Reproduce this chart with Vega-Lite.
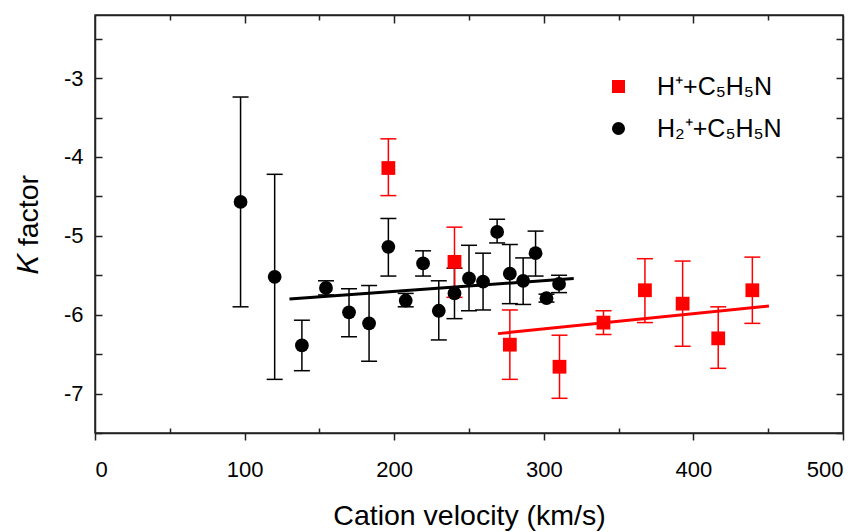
{
  "$schema": "https://vega.github.io/schema/vega-lite/v6.json",
  "width": 748,
  "height": 418,
  "autosize": {"type": "none"},
  "padding": {"left": 95, "top": 15, "right": 22, "bottom": 99},
  "config": {
    "font": "Liberation Sans",
    "view": {"stroke": "#222", "strokeWidth": 1.5},
    "axis": {
      "grid": false,
      "domainColor": "#222",
      "tickColor": "#222",
      "domainWidth": 1.5,
      "tickWidth": 1.5,
      "labelColor": "#000",
      "titleColor": "#000",
      "labelFont": "Liberation Sans",
      "titleFont": "Liberation Sans",
      "titleFontWeight": "normal",
      "labelFontSize": 22,
      "titleFontSize": 28.5
    }
  },
  "datasets": {
    "pts": [
      {"series": "H₂⁺+C₅H₅N", "v": 97.3, "k": -4.57, "lo": -5.90, "hi": -3.24},
      {"series": "H₂⁺+C₅H₅N", "v": 120.1, "k": -5.52, "lo": -6.82, "hi": -4.22},
      {"series": "H₂⁺+C₅H₅N", "v": 138.3, "k": -6.39, "lo": -6.71, "hi": -6.07},
      {"series": "H₂⁺+C₅H₅N", "v": 154.4, "k": -5.66, "lo": -5.75, "hi": -5.57},
      {"series": "H₂⁺+C₅H₅N", "v": 169.8, "k": -5.97, "lo": -6.28, "hi": -5.67},
      {"series": "H₂⁺+C₅H₅N", "v": 183.2, "k": -6.11, "lo": -6.59, "hi": -5.63},
      {"series": "H₂⁺+C₅H₅N", "v": 196.1, "k": -5.14, "lo": -5.51, "hi": -4.78},
      {"series": "H₂⁺+C₅H₅N", "v": 207.7, "k": -5.82, "lo": -5.90, "hi": -5.73},
      {"series": "H₂⁺+C₅H₅N", "v": 219.3, "k": -5.35, "lo": -5.51, "hi": -5.19},
      {"series": "H₂⁺+C₅H₅N", "v": 229.8, "k": -5.95, "lo": -6.32, "hi": -5.57},
      {"series": "H₂⁺+C₅H₅N", "v": 240.3, "k": -5.73, "lo": -6.05, "hi": -5.41},
      {"series": "H₂⁺+C₅H₅N", "v": 250.0, "k": -5.54, "lo": -5.95, "hi": -5.12},
      {"series": "H₂⁺+C₅H₅N", "v": 259.4, "k": -5.58, "lo": -5.94, "hi": -5.22},
      {"series": "H₂⁺+C₅H₅N", "v": 268.8, "k": -4.95, "lo": -5.09, "hi": -4.79},
      {"series": "H₂⁺+C₅H₅N", "v": 277.3, "k": -5.48, "lo": -5.86, "hi": -5.11},
      {"series": "H₂⁺+C₅H₅N", "v": 286.2, "k": -5.57, "lo": -5.87, "hi": -5.28},
      {"series": "H₂⁺+C₅H₅N", "v": 294.5, "k": -5.22, "lo": -5.51, "hi": -4.94},
      {"series": "H₂⁺+C₅H₅N", "v": 301.8, "k": -5.79, "lo": -5.84, "hi": -5.74},
      {"series": "H₂⁺+C₅H₅N", "v": 310.2, "k": -5.61, "lo": -5.72, "hi": -5.50},
      {"series": "H⁺+C₅H₅N", "v": 196.1, "k": -4.14, "lo": -4.49, "hi": -3.77},
      {"series": "H⁺+C₅H₅N", "v": 240.3, "k": -5.33, "lo": -5.78, "hi": -4.89},
      {"series": "H⁺+C₅H₅N", "v": 277.3, "k": -6.38, "lo": -6.82, "hi": -5.94},
      {"series": "H⁺+C₅H₅N", "v": 310.5, "k": -6.66, "lo": -7.06, "hi": -6.26},
      {"series": "H⁺+C₅H₅N", "v": 339.9, "k": -6.10, "lo": -6.25, "hi": -5.95},
      {"series": "H⁺+C₅H₅N", "v": 367.6, "k": -5.69, "lo": -6.10, "hi": -5.29},
      {"series": "H⁺+C₅H₅N", "v": 392.8, "k": -5.86, "lo": -6.40, "hi": -5.32},
      {"series": "H⁺+C₅H₅N", "v": 416.6, "k": -6.30, "lo": -6.68, "hi": -5.90},
      {"series": "H⁺+C₅H₅N", "v": 439.4, "k": -5.69, "lo": -6.11, "hi": -5.27}
    ],
    "fit": [
      {"series": "H₂⁺+C₅H₅N", "v": 130, "k": -5.80},
      {"series": "H₂⁺+C₅H₅N", "v": 320, "k": -5.54},
      {"series": "H⁺+C₅H₅N", "v": 269.4, "k": -6.24},
      {"series": "H⁺+C₅H₅N", "v": 450.5, "k": -5.89}
    ]
  },
  "resolve": {"axis": {"x": "independent", "y": "independent"}},
  "layer": [
    {
      "data": {"name": "pts"},
      "mark": {"type": "rule", "strokeWidth": 1.5},
      "encoding": {
        "x": {"field": "v", "type": "quantitative",
          "scale": {"domain": [0, 500], "nice": false, "zero": false},
          "axis": {"orient": "bottom", "values": [0, 100, 200, 300, 400, 500], "tickSize": 7, "labelPadding": 19, "title": "Cation velocity (km/s)", "titlePadding": 21}},
        "y": {"field": "lo", "type": "quantitative",
          "scale": {"domain": [-7.5, -2.2], "nice": false, "zero": false},
          "axis": {"orient": "left", "values": [-7, -6, -5, -4, -3], "ticks": false, "labelPadding": 12, "labelExpr": "'' + datum.value", "title": "𝐾 factor", "titlePadding": 20}},
        "y2": {"field": "hi"},
        "stroke": {"field": "series", "type": "nominal",
          "scale": {"range": ["#ff0000", "#000000"]},
          "legend": null}
      }
    },
    {
      "data": {"name": "pts"},
      "mark": {"type": "tick", "orient": "horizontal", "size": 16, "thickness": 1.5, "opacity": 1},
      "encoding": {
        "x": {"field": "v", "type": "quantitative",
          "axis": {"orient": "bottom", "values": [50, 150, 250, 350, 450], "tickSize": -5, "labels": false, "domain": false, "title": null}},
        "y": {"field": "lo", "type": "quantitative",
          "axis": {"orient": "left", "values": [-7.5, -7, -6.5, -6, -5.5, -5, -4.5, -4, -3.5, -3, -2.5], "tickSize": -7, "labels": false, "domain": false, "title": null}},
        "fill": {"field": "series", "type": "nominal",
          "scale": {"range": ["#ff0000", "#000000"]},
          "legend": null}
      }
    },
    {
      "data": {"name": "pts"},
      "mark": {"type": "tick", "orient": "horizontal", "size": 16, "thickness": 1.5, "opacity": 1},
      "encoding": {
        "x": {"field": "v", "type": "quantitative",
          "axis": {"orient": "top", "values": [100, 200, 300, 400], "tickSize": -8, "labels": false, "domain": true, "title": null}},
        "y": {"field": "hi", "type": "quantitative",
          "axis": {"orient": "right", "values": [-7.5, -7, -6.5, -6, -5.5, -5, -4.5, -4, -3.5, -3, -2.5], "tickSize": -7, "labels": false, "domain": true, "title": null}},
        "fill": {"field": "series", "type": "nominal", "legend": null}
      }
    },
    {
      "data": {"name": "fit"},
      "mark": {"type": "line", "strokeWidth": 3},
      "encoding": {
        "x": {"field": "v", "type": "quantitative",
          "axis": {"orient": "top", "values": [50, 150, 250, 350, 450], "tickSize": -5, "labels": false, "domain": false, "title": null}},
        "y": {"field": "k", "type": "quantitative", "axis": null},
        "stroke": {"field": "series", "type": "nominal", "legend": null},
        "detail": {"field": "series"}
      }
    },
    {
      "data": {"name": "pts"},
      "mark": {"type": "point", "filled": true, "opacity": 1, "size": 190},
      "encoding": {
        "x": {"field": "v", "type": "quantitative", "axis": null},
        "y": {"field": "k", "type": "quantitative", "axis": null},
        "color": {"field": "series", "type": "nominal",
          "scale": {"domain": ["H⁺+C₅H₅N", "H₂⁺+C₅H₅N"], "range": ["#ff0000", "#000000"]},
          "legend": {"orient": "none", "legendX": 511, "legendY": 59, "title": null, "labelFontSize": 25, "labelFont": "Liberation Sans", "labelColor": "#000", "symbolSize": 170, "rowPadding": 16, "labelOffset": 26, "padding": 0, "symbolStrokeWidth": 0}},
        "shape": {"field": "series", "type": "nominal",
          "scale": {"domain": ["H⁺+C₅H₅N", "H₂⁺+C₅H₅N"], "range": ["square", "circle"]},
          "legend": {"orient": "none", "legendX": 511, "legendY": 59, "title": null, "labelFontSize": 25, "labelFont": "Liberation Sans", "labelColor": "#000", "symbolSize": 170, "rowPadding": 16, "labelOffset": 26, "padding": 0, "symbolStrokeWidth": 0}}
      }
    }
  ]
}
